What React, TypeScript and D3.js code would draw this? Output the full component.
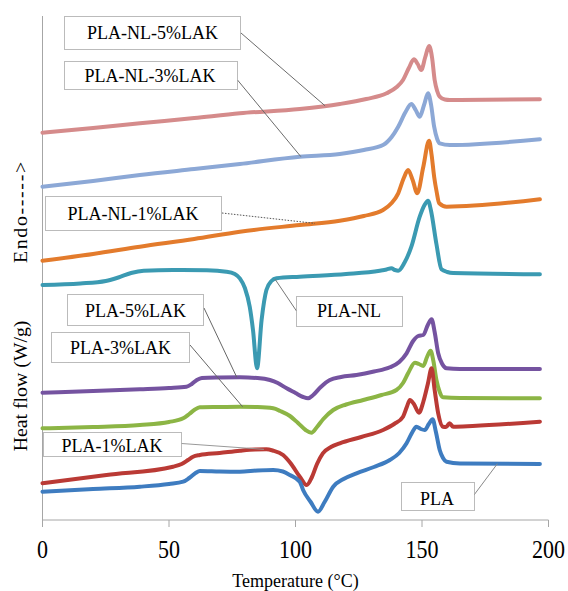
import React from 'react';
import * as d3 from 'd3';

type Pt = [number, number];

// Temperature (°C) ticks
const xTicks = [0, 50, 100, 150, 200];

// Series: [temperature °C, heat flow (offset, arbitrary units)]
const plaNL5: Pt[] = [[0,38.73],[20,39.2],[38.5,39.67],[60,40.2],[78,40.67],[101.7,41.1],[117.5,41.6],[128,42.1],[136,42.67],[140,43.3],[142.5,44.0],[144.8,45.2],[146.8,46.07],[148.3,45.6],[149.7,45.0],[151.3,46.3],[152.8,47.4],[154,46.2],[155,44.0],[156,42.9],[157,42.33],[159,42.05],[161,42.0],[196.6,42.07]];
const plaNL3: Pt[] = [[0,33.33],[20,33.9],[38.5,34.5],[60,35.1],[78,35.6],[101.7,36.33],[117.5,36.6],[127,37.0],[134.6,37.5],[138,38.3],[140.6,39.33],[143.5,40.8],[145.8,41.6],[147.5,41.0],[149.1,40.33],[150.8,41.5],[152.4,42.67],[153.6,41.5],[154.8,39.33],[156,38.1],[157,37.67],[161,37.5],[196.6,38.07]];
const plaNL1: Pt[] = [[0,25.93],[20,26.6],[38.5,27.33],[60,28.1],[78,28.83],[101.7,29.5],[117.5,29.93],[127,30.4],[134.6,31.0],[138,31.7],[140.6,32.67],[142.8,34.2],[144.5,35.0],[146.3,34.0],[148.1,32.67],[150.5,35.3],[152.8,37.93],[153.8,36.5],[154.8,34.33],[155.8,32.8],[156.8,31.67],[159.7,31.33],[196.6,32.07]];
const plaNL: Pt[] = [[0,23.5],[15,23.65],[25,23.9],[30,24.25],[35,24.7],[40,24.93],[51.6,25.0],[65,24.97],[72.7,24.83],[76,24.6],[78,24.17],[80,23.2],[81.9,21.33],[83.2,19.0],[84.8,15.17],[86.6,20.0],[88.5,23.0],[90.5,23.9],[92.5,24.17],[101.7,24.33],[120,24.6],[133.3,24.93],[136,25.05],[137.9,25.17],[139.3,25.0],[140.6,24.93],[143,25.7],[145.8,27.33],[149.1,30.33],[151,31.5],[152.4,31.93],[153.5,31.0],[155.7,27.6],[157.7,25.07],[160,24.8],[162.3,24.7],[196.6,24.57]];
const pla5: Pt[] = [[0,12.73],[20,12.9],[38.5,13.07],[50,13.2],[56.9,13.33],[59,13.6],[61,14.0],[63,14.2],[70,14.25],[78,14.27],[85,14.2],[89.9,14.0],[93,13.7],[96.5,13.17],[100,12.7],[103,12.3],[105,12.17],[107,12.5],[110,13.3],[113.6,14.0],[118,14.3],[124.1,14.5],[131,14.85],[137.3,15.27],[141,15.8],[143.9,16.67],[146.5,17.9],[148.5,18.4],[150.5,18.5],[152.3,19.5],[153.8,20.07],[155,18.8],[156.4,16.67],[158,15.6],[159.7,15.17],[165,15.1],[196.6,15.1]];
const pla3: Pt[] = [[0,9.17],[20,9.3],[38.5,9.5],[50,9.8],[55.6,10.17],[58,10.6],[60,11.0],[62.2,11.27],[70,11.3],[78,11.33],[85,11.3],[91.2,11.17],[94,10.9],[97.8,10.4],[101,9.7],[104,9.0],[106.3,8.73],[108.5,9.3],[111,10.1],[114.9,11.0],[120,11.55],[126.8,12.0],[134,12.5],[139.9,13.0],[142.5,13.7],[144.5,14.67],[147.2,15.73],[148.8,15.6],[150.5,15.4],[152,16.3],[153.4,16.93],[154.5,15.9],[155.7,14.0],[157,12.8],[158.3,12.27],[165,12.2],[196.6,12.17]];
const pla1: Pt[] = [[0,3.67],[25.3,4.5],[51.6,5.33],[55,5.6],[57.5,6.0],[59.5,6.33],[62.2,6.5],[70,6.7],[78,6.93],[84,7.05],[88.5,7.07],[91,6.95],[95.1,6.5],[98,5.7],[101.7,4.33],[104.4,3.5],[106.5,4.3],[108.5,5.6],[110.8,6.67],[114,7.3],[117.5,7.67],[126,8.3],[134.6,9.0],[139,9.6],[142.5,10.33],[144,11.3],[145.2,12.0],[146.8,11.6],[148.8,10.73],[150.5,11.8],[152.3,13.6],[153.8,15.17],[155,13.0],[156.4,10.67],[158.3,9.33],[159.5,9.3],[160.9,9.67],[162.3,9.33],[170,9.4],[196.6,9.83]];
const pla: Pt[] = [[0,2.83],[20,3.1],[38.5,3.33],[50,3.6],[55.6,3.83],[58,4.2],[60.5,4.7],[62.2,4.9],[70,4.85],[78,4.83],[85,4.95],[91.2,5.0],[95,4.85],[97.8,4.5],[101.7,3.83],[103,3.0],[106,1.8],[108.9,0.83],[111.5,1.8],[114.9,3.33],[119,4.1],[124.1,4.67],[131,5.3],[137.3,6.0],[141,6.7],[143.9,7.67],[146,8.7],[147.8,9.33],[149.5,9.1],[151.1,9.0],[152.7,9.6],[154.2,10.07],[155.5,8.8],[157,7.0],[158.3,6.2],[159.7,5.83],[165,5.65],[196.6,5.6]];

const seriesNames = ['PLA-NL-5%LAK', 'PLA-NL-3%LAK', 'PLA-NL-1%LAK', 'PLA-NL', 'PLA-5%LAK', 'PLA-3%LAK', 'PLA-1%LAK', 'PLA'];
const seriesData = [plaNL5, plaNL3, plaNL1, plaNL, pla5, pla3, pla1, pla];
const seriesColors = ['#D58B8B', '#8CA8D6', '#E37B2C', '#3B9AB2', '#7553A0', '#8CB545', '#BA3A35', '#3E7CC0'];
// temperature at which each label's leader line touches its curve
const labelAnchorT = [111.7, 102.1, 107.7, 91.9, 76.8, 79.1, 87.5, 179.8];

// label layout (pixels)
const labelLayout = [
  { bx: 64.5, by: 16.5, bw: 176, bh: 33, tx: 152.5, ty: 39, ax: 241, ay: 33, dash: '' , lc: '#6b6b6b'},
  { bx: 64.5, by: 61.5, bw: 173, bh: 28, tx: 150, ty: 81.5, ax: 237.5, ay: 80, dash: '', lc: '#6b6b6b' },
  { bx: 45.5, by: 196.5, bw: 176, bh: 34, tx: 133, ty: 220, ax: 222, ay: 213, dash: '1.5,1.5', lc: '#555' },
  { bx: 296.5, by: 296.5, bw: 106, bh: 30, tx: 349, ty: 317, ax: 296.5, ay: 311, dash: '', lc: '#777' },
  { bx: 67.5, by: 294.5, bw: 136, bh: 31, tx: 135.5, ty: 316.5, ax: 204, ay: 308, dash: '', lc: '#666' },
  { bx: 51.5, by: 332.5, bw: 138, bh: 30, tx: 120.5, ty: 354, ax: 190, ay: 345, dash: '', lc: '#666' },
  { bx: 43.5, by: 432.5, bw: 138, bh: 24, tx: 112, ty: 451.5, ax: 181.5, ay: 443.5, dash: '', lc: '#999' },
  { bx: 401.5, by: 482.5, bw: 73, bh: 28, tx: 437, ty: 505, ax: 474, ay: 495, dash: '', lc: '#888' },
];

const FONT = '"Liberation Serif", "Times New Roman", serif';

function valueAt(data: Pt[], t: number): number {
  for (let i = 0; i < data.length - 1; i++) {
    const [t0, v0] = data[i];
    const [t1, v1] = data[i + 1];
    if (t >= t0 && t <= t1) return v0 + ((v1 - v0) * (t - t0)) / (t1 - t0);
  }
  return data[data.length - 1][1];
}

export default function App() {
  const W = 568, H = 591;
  const x = d3.scaleLinear().domain([0, 200]).range([42.5, 548.5]);
  const y = d3.scaleLinear().domain([0, 50.4]).range([520, 16]);
  const line = d3.line<Pt>().x(d => x(d[0])).y(d => y(d[1])).curve(d3.curveMonotoneX);
  const axisColor = '#A6A6A6';

  return (
    <svg width={W} height={H} style={{ position: 'absolute', left: 0, top: 0, background: '#fff' }} fontFamily={FONT}>
      <rect x={0} y={0} width={W} height={H} fill="#fff" />
      {/* axes */}
      <line x1={x(0)} x2={x(0)} y1={y(50.4)} y2={y(0)} stroke={axisColor} strokeWidth={1} />
      <line x1={x(0)} x2={x(200)} y1={y(0)} y2={y(0)} stroke={axisColor} strokeWidth={1} />
      {x.ticks(4).filter(t => xTicks.includes(t)).map(t => (
        <g key={t}>
          <line x1={x(t)} x2={x(t)} y1={y(0)} y2={y(0) + 7} stroke={axisColor} strokeWidth={1} />
          <text transform={`translate(${x(t)},558) scale(1,1.1)`} textAnchor="middle" fontSize={22} fill="#000">{t}</text>
        </g>
      ))}
      <text transform={`translate(${x(100)},587) scale(1,1.1)`} textAnchor="middle" fontSize={18} fill="#000">Temperature (°C)</text>
      <text transform="translate(27,386) rotate(-90) scale(1.1,1)" textAnchor="middle" fontSize={18} fill="#000">Heat flow (W/g)</text>
      <text transform="translate(27,212.5) rotate(-90) scale(1.1,1)" textAnchor="middle" fontSize={18} fill="#000" textLength={92} lengthAdjust="spacing">Endo-----{'>'}</text>

      {/* curves */}
      {seriesData.map((d, i) => (
        <path key={seriesNames[i]} d={line(d) || ''} fill="none" stroke={seriesColors[i]} strokeWidth={4} strokeLinejoin="round" strokeLinecap="round" />
      ))}

      {/* labels */}
      {labelLayout.map((L, i) => {
        const t = labelAnchorT[i];
        const v = valueAt(seriesData[i], t);
        return (
          <g key={'lab' + i}>
            <line x1={L.ax} y1={L.ay} x2={x(t)} y2={y(v)} stroke={L.lc} strokeWidth={1} strokeDasharray={L.dash || undefined} />
            <rect x={L.bx} y={L.by} width={L.bw} height={L.bh} fill="#fff" stroke="#777" strokeWidth={1} strokeDasharray="1,1" />
            <text x={L.tx} y={L.ty} textAnchor="middle" fontSize={18} fill="#000">{seriesNames[i]}</text>
          </g>
        );
      })}
    </svg>
  );
}
